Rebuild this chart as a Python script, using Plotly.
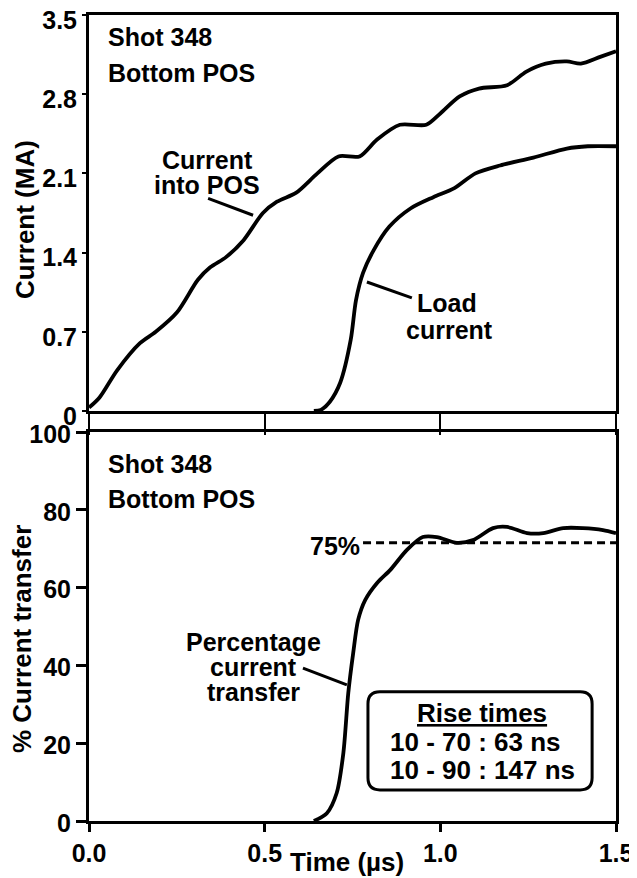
import plotly.graph_objects as go

# ---------------- data ----------------
t_pos = [0.0, 0.03, 0.08, 0.145, 0.19, 0.25, 0.31, 0.345, 0.39, 0.44, 0.495, 0.535, 0.59,
         0.65, 0.71, 0.77, 0.82, 0.885, 0.96, 1.0, 1.055, 1.11, 1.19, 1.245, 1.30, 1.36,
         1.40, 1.455, 1.5]
i_pos = [0.03, 0.12, 0.36, 0.60, 0.70, 0.87, 1.16, 1.27, 1.36, 1.51, 1.75, 1.85, 1.93,
         2.10, 2.25, 2.25, 2.40, 2.53, 2.53, 2.63, 2.78, 2.85, 2.88, 3.00, 3.07, 3.09,
         3.07, 3.13, 3.18]

t_load = [0.64, 0.66, 0.685, 0.715, 0.745, 0.76, 0.78, 0.81, 0.855, 0.915, 0.98, 1.04,
          1.10, 1.17, 1.265, 1.36, 1.42, 1.5]
i_load = [0.0, 0.01, 0.08, 0.25, 0.63, 0.98, 1.22, 1.42, 1.63, 1.79, 1.89, 1.97,
          2.10, 2.17, 2.24, 2.32, 2.34, 2.34]

t_pct = [0.64, 0.677, 0.705, 0.724, 0.738, 0.752, 0.766, 0.786, 0.82, 0.857, 0.905, 0.95,
         0.99, 1.047, 1.093, 1.15, 1.19, 1.247, 1.293, 1.35, 1.406, 1.463, 1.5]
p_pct = [0.0, 2.0, 7.2, 17.5, 32.9, 43.2, 51.7, 56.8, 61.2, 64.5, 69.7, 73.0,
         73.0, 71.5, 72.2, 75.3, 75.6, 74.0, 74.0, 75.3, 75.3, 74.8, 74.0]

ref_level = 71.5          # dashed "75%" line as drawn
ref_start = 0.78

x_ticks = [0.0, 0.5, 1.0, 1.5]
x_ticktext = ["0.0", "0.5", "1.0", "1.5"]
y1_ticks = [0, 0.7, 1.4, 2.1, 2.8, 3.5]
y1_ticktext = ["0", "0.7", "1.4", "2.1", "2.8", "3.5"]
y2_ticks = [0, 20, 40, 60, 80, 100]
y2_ticktext = ["0", "20", "40", "60", "80", "100"]

# ---------------- figure ----------------
OFF = 8                      # default page body margin
W, H = 637 - OFF, 878 - OFF
FONT = "Liberation Sans, Arial, Helvetica, sans-serif"
FS = 25

def px_x(p):
    return (p - OFF) / W

def px_y(p):
    return 1 - (p - OFF) / H

fig = go.Figure()
line_style = dict(color="black", width=3.8, shape="spline", smoothing=0.8)
fig.add_trace(go.Scatter(x=t_pos, y=i_pos, mode="lines", line=line_style,
                         xaxis="x", yaxis="y", showlegend=False, hoverinfo="skip"))
fig.add_trace(go.Scatter(x=t_load, y=i_load, mode="lines", line=line_style,
                         xaxis="x", yaxis="y", showlegend=False, hoverinfo="skip"))
fig.add_trace(go.Scatter(x=t_pct, y=p_pct, mode="lines", line=line_style,
                         xaxis="x2", yaxis="y2", showlegend=False, hoverinfo="skip"))
fig.add_trace(go.Scatter(x=[ref_start, 1.5], y=[ref_level, ref_level], mode="lines",
                         line=dict(color="black", width=3, dash="8px,5px"),
                         xaxis="x2", yaxis="y2", showlegend=False, hoverinfo="skip"))

xdom = [px_x(89), px_x(616)]
tickfont = dict(family=FONT, size=FS, color="black", weight="bold")

fig.update_layout(
    width=W, height=H,
    margin=dict(l=0, r=0, t=0, b=0, autoexpand=False),
    paper_bgcolor="white", plot_bgcolor="white",
    font=dict(family=FONT, size=FS, color="black"),
    xaxis=dict(domain=xdom, anchor="y", range=[0, 1.5], showgrid=False, zeroline=False,
               automargin=False,
               showline=True, linecolor="black", linewidth=2.5, mirror=True,
               ticks="outside", ticklen=21, tickwidth=2, tickcolor="black",
               tickvals=x_ticks, showticklabels=False),
    yaxis=dict(domain=[px_y(411), px_y(15)], anchor="x", range=[0, 3.5], showgrid=False,
               automargin=False,
               zeroline=False, showline=True, linecolor="black", linewidth=3, mirror=True,
               ticks="outside", ticklen=4, tickwidth=2, tickcolor="black",
               tickvals=y1_ticks, ticktext=y1_ticktext, tickfont=tickfont,
               ticklabelstandoff=0, ticklabelshift=5, ticklabeloverflow="allow"),
    xaxis2=dict(domain=xdom, anchor="y2", range=[0, 1.5], showgrid=False, zeroline=False,
                automargin=False,
                showline=True, linecolor="black", linewidth=3, mirror=True,
                ticks="outside", ticklen=8, tickwidth=2.5, tickcolor="black",
                tickvals=x_ticks, ticktext=x_ticktext, tickfont=tickfont,
                ticklabelstandoff=0, ticklabeloverflow="allow"),
    yaxis2=dict(domain=[px_y(821), px_y(432)], anchor="x2", range=[0, 100], showgrid=False,
                automargin=False,
                zeroline=False, showline=True, linecolor="black", linewidth=3, mirror=True,
                ticks="outside", ticklen=10, tickwidth=2.5, tickcolor="black",
                tickvals=y2_ticks, ticktext=y2_ticktext, tickfont=tickfont,
                ticklabelstandoff=0, ticklabelshift=2, ticklabeloverflow="allow"),
)

ann = []

def text(x, y, s, xref, yref, xanchor="center", size=FS, angle=0, bold=True):
    ann.append(dict(x=x, y=y, xref=xref, yref=yref, text=s, showarrow=False,
                    xanchor=xanchor, yanchor="middle", textangle=angle,
                    font=dict(family=FONT, size=size, color="black",
                              weight="bold" if bold else "normal")))

# axis titles
text(px_x(25), px_y(220), "Current (MA)", "paper", "paper", angle=-90, size=26)
text(px_x(22), px_y(639), "% Current transfer", "paper", "paper", angle=-90, size=26)
text(px_x(347), px_y(862), "Time (µs)", "paper", "paper", size=26)

# top panel labels
text(0.048, 3.306, "Shot 348", "x", "y", xanchor="left")
text(0.048, 2.987, "Bottom POS", "x", "y", xanchor="left")
text(0.336, 2.218, "Current", "x", "y")
text(0.336, 1.998, "into POS", "x", "y")
text(1.019, 0.955, "Load", "x", "y")
text(1.025, 0.716, "current", "x", "y")

# bottom panel labels
text(0.048, 91.8, "Shot 348", "x2", "y2", xanchor="left")
text(0.048, 82.8, "Bottom POS", "x2", "y2", xanchor="left")
text(0.467, 46.0, "Percentage", "x2", "y2")
text(0.467, 39.6, "current", "x2", "y2")
text(0.467, 33.2, "transfer", "x2", "y2")
text(0.777, 70.7, "75%", "x2", "y2", xanchor="right")
text(1.119, 27.8, "<u>Rise times</u>", "x2", "y2", size=26)
text(0.851, 20.3, "10 - 70 : 63 ns", "x2", "y2", xanchor="left", size=26)
text(0.851, 13.1, "10 - 90 : 147 ns", "x2", "y2", xanchor="left", size=26)

fig.update_layout(annotations=ann)

# pointer lines and rounded box
shapes = [
    dict(type="line", xref="x", yref="y", x0=0.339, y0=1.88, x1=0.467, y1=1.73,
         line=dict(color="black", width=3)),
    dict(type="line", xref="x", yref="y", x0=0.791, y0=1.14, x1=0.919, y1=1.00,
         line=dict(color="black", width=3)),
    dict(type="line", xref="x2", yref="y2", x0=0.609, y0=39.3, x1=0.734, y1=35.0,
         line=dict(color="black", width=3)),
]
bx0, bx1, by0, by1 = 0.794, 1.432, 8.0, 33.2
rx, ry = 0.034, 3.1
path = (f"M {bx0+rx},{by0} L {bx1-rx},{by0} Q {bx1},{by0} {bx1},{by0+ry} "
        f"L {bx1},{by1-ry} Q {bx1},{by1} {bx1-rx},{by1} "
        f"L {bx0+rx},{by1} Q {bx0},{by1} {bx0},{by1-ry} "
        f"L {bx0},{by0+ry} Q {bx0},{by0} {bx0+rx},{by0} Z")
shapes.append(dict(type="path", xref="x2", yref="y2", path=path,
                   line=dict(color="black", width=3)))
fig.update_layout(shapes=shapes)

fig.write_html("out.html")
